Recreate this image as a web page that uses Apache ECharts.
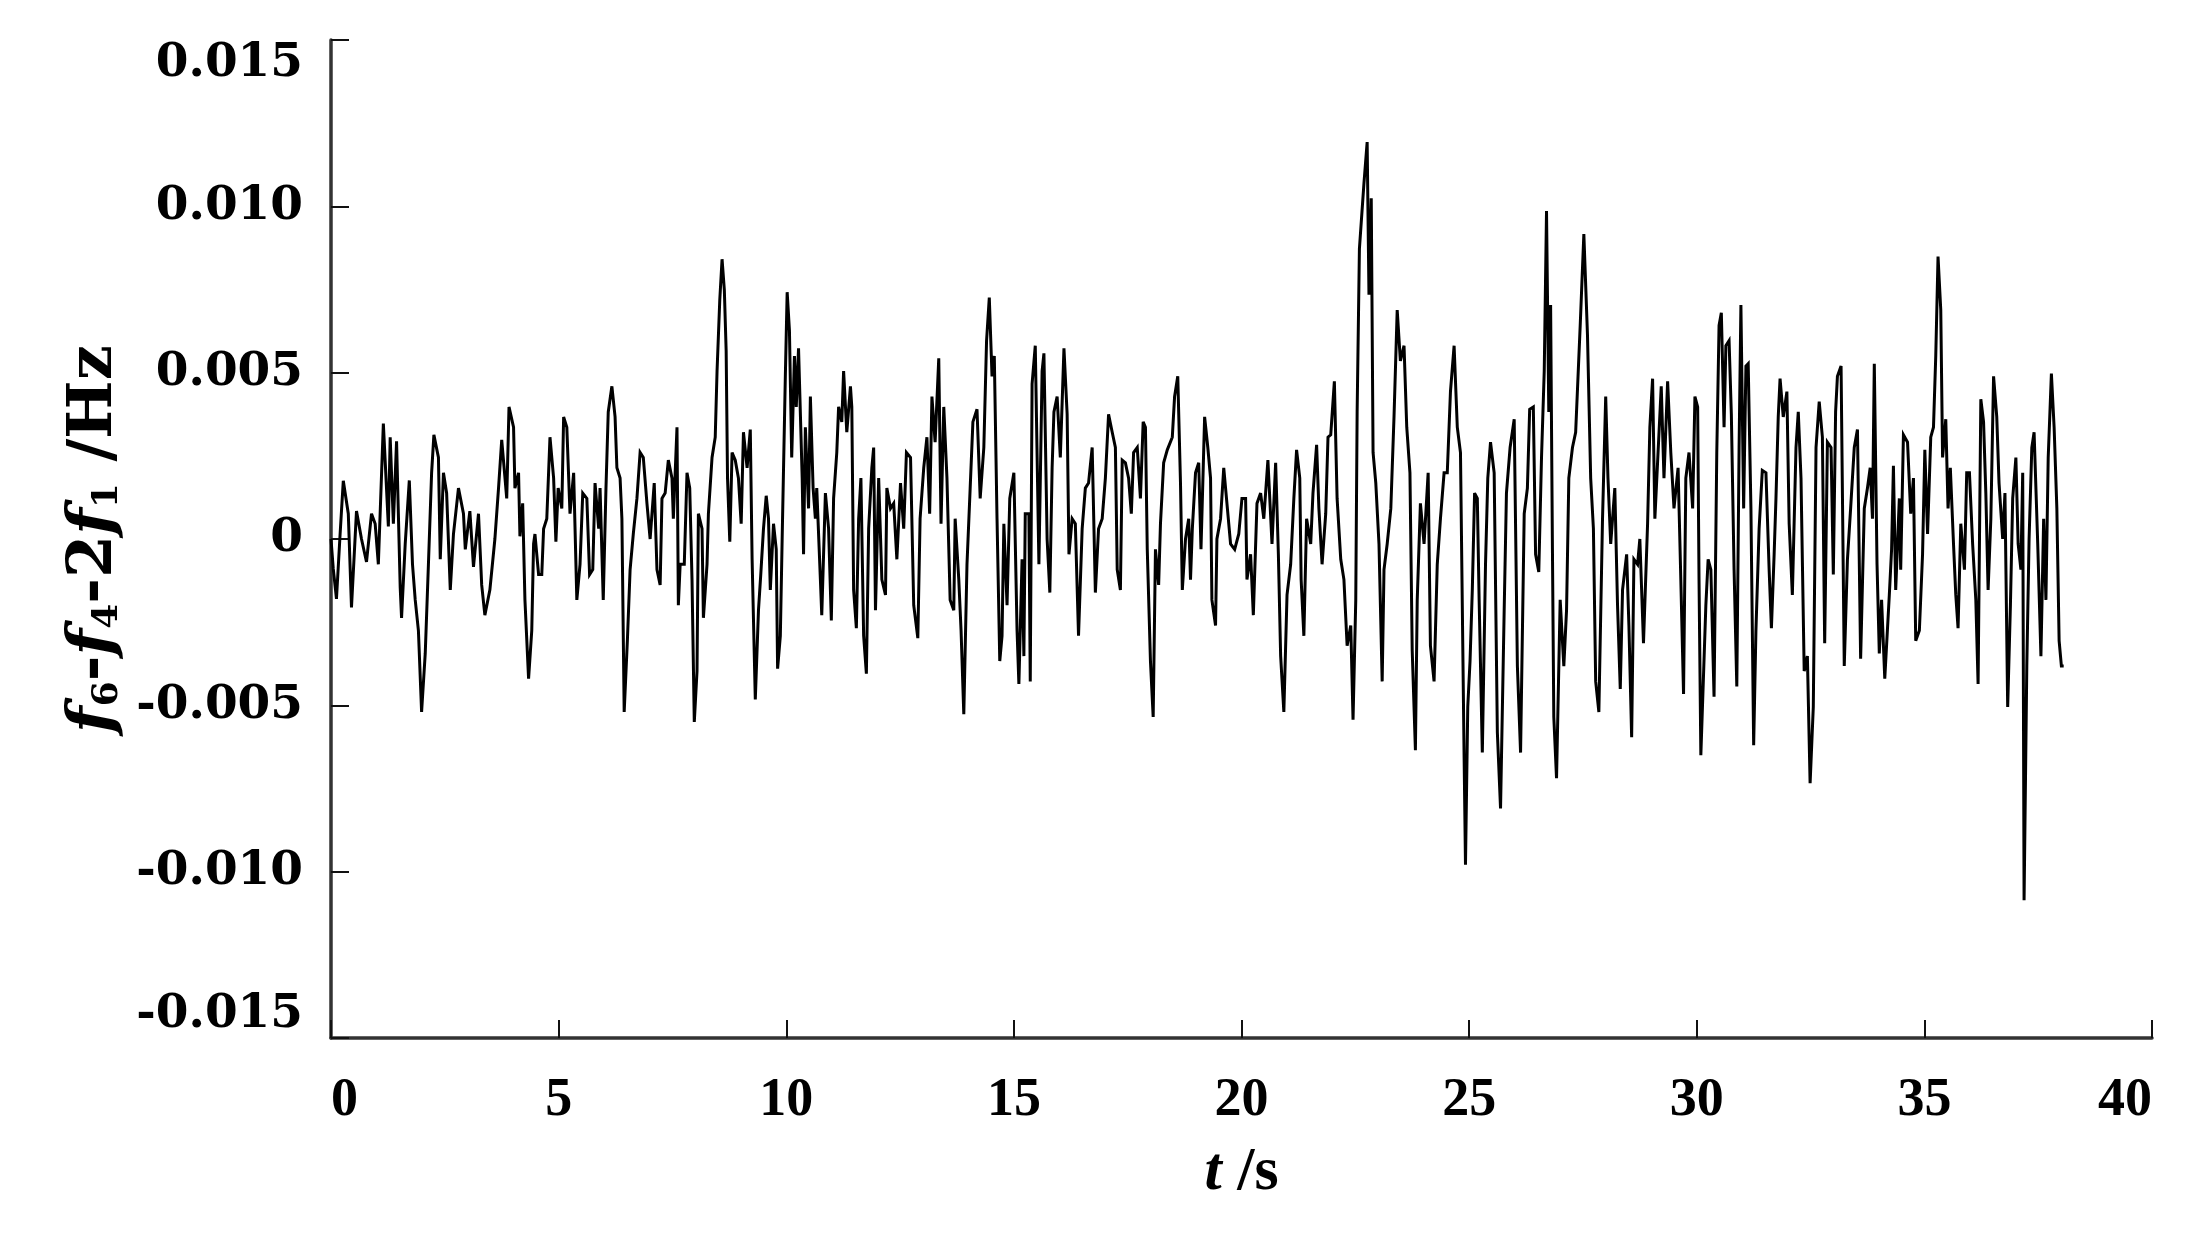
<!DOCTYPE html>
<html>
<head>
<meta charset="utf-8">
<script src="https://cdn.jsdelivr.net/npm/echarts@6/dist/echarts.min.js"></script>
<style>
  html, body { margin: 0; padding: 0; background: #ffffff; }
  #chart { width: 2200px; height: 1248px; }
</style>
</head>
<body>
<div id="chart"></div>
<script>
// x ticks (s) and y ticks (Hz) with their labels
const xTicks = [0, 5, 10, 15, 20, 25, 30, 35, 40];
const xTickLabels = ['0', '5', '10', '15', '20', '25', '30', '35', '40'];
const yTicks = [-0.015, -0.010, -0.005, 0, 0.005, 0.010, 0.015];
const yTickLabels = ['-0.015', '-0.010', '-0.005', '0', '0.005', '0.010', '0.015'];

// f6 - f4 - 2f1 (Hz) versus t (s), in segments
const seg0to4 = [[0,0],[0.05,-0.0009],[0.12,-0.0018],[0.20,0.00015],[0.27,0.00175],[0.38,0.00076],[0.45,-0.00206],[0.56,0.00084],[0.67,0],[0.78,-0.00069],[0.89,0.00076],[0.97,0.00046],[1.04,-0.00076],[1.15,0.00347],[1.26,0.00038],[1.30,0.00306],[1.37,0.00046],[1.44,0.00294],[1.52,-0.00145],[1.55,-0.00237],[1.63,-0.00015],[1.72,0.00176],[1.79,-0.00076],[1.85,-0.00183],[1.92,-0.00275],[1.99,-0.0052],[2.07,-0.00344],[2.14,-0.00076],[2.21,0.00199],[2.26,0.00313],[2.36,0.00245],[2.40,-0.00061],[2.47,0.00199],[2.54,0.00138],[2.62,-0.00153],[2.69,0.00015],[2.80,0.00153],[2.91,0.00076],[2.95,-0.00031],[3.05,0.00084],[3.13,-0.00084],[3.24,0.00076],[3.31,-0.00138],[3.38,-0.00229],[3.49,-0.00153],[3.60,0],[3.68,0.00153],[3.75,0.00298],[3.86,0.00122],[3.91,0.00397]];
const seg4to8 = [[4.01,0.00336],[4.04,0.00153],[4.12,0.00199],[4.15,0.00008],[4.21,0.00107],[4.26,-0.00183],[4.34,-0.0042],[4.41,-0.00275],[4.45,-0.00015],[4.48,0.00015],[4.56,-0.00107],[4.63,-0.00107],[4.67,0.00031],[4.74,0.00061],[4.81,0.00306],[4.89,0.00183],[4.94,-0.00008],[4.99,0.00153],[5.07,0.00092],[5.11,0.00367],[5.18,0.00336],[5.25,0.00076],[5.33,0.00199],[5.40,-0.00183],[5.47,-0.00076],[5.53,0.00138],[5.62,0.00122],[5.68,-0.00107],[5.75,-0.00092],[5.80,0.00168],[5.88,0.00031],[5.91,0.00153],[5.98,-0.00183],[6.04,0.00153],[6.09,0.00382],[6.17,0.00459],[6.24,0.00367],[6.28,0.00214],[6.35,0.00183],[6.39,0.00061],[6.44,-0.0052],[6.51,-0.00306],[6.57,-0.00092],[6.64,0.00015],[6.72,0.00122],[6.79,0.0026],[6.86,0.00245],[6.94,0.00107],[7.01,0],[7.10,0.00168],[7.16,-0.00092],[7.23,-0.00138],[7.27,0.00122],[7.34,0.00138],[7.41,0.00237],[7.49,0.00183],[7.52,0.00061],[7.60,0.00336],[7.63,-0.00199],[7.67,-0.00076]];
const seg8to11 = [[7.76,-0.00076],[7.82,0.00199],[7.88,0.00153],[7.93,-0.00122],[7.98,-0.0055],[8.04,-0.00397],[8.07,0.00076],[8.15,0.00031],[8.18,-0.00237],[8.26,-0.00076],[8.29,0.00076],[8.37,0.00245],[8.44,0.00306],[8.48,0.00505],[8.54,0.00719],[8.59,0.00841],[8.64,0.00749],[8.68,0.00566],[8.71,0.00183],[8.76,-0.00008],[8.81,0.0026],[8.88,0.00237],[8.95,0.00183],[9.01,0.00046],[9.06,0.00321],[9.14,0.00214],[9.21,0.00329],[9.25,-0.00061],[9.32,-0.00482],[9.39,-0.00214],[9.44,-0.00107],[9.50,0.00031],[9.56,0.0013],[9.61,0.00061],[9.65,-0.00153],[9.72,0.00046],[9.78,-0.00031],[9.81,-0.0039],[9.87,-0.00291],[9.91,0],[9.98,0.00489],[10.02,0.00742],[10.07,0.00627],[10.12,0.00245],[10.18,0.0055],[10.22,0.00397],[10.27,0.00573],[10.35,0.00183],[10.38,-0.00046],[10.42,0.00336],[10.49,0.00092],[10.53,0.00428],[10.59,0.00153],[10.64,0.00061],[10.67,0.00153],[10.75,-0.00122],[10.78,-0.00229],[10.86,0.00138],[10.93,0.00031],[10.99,-0.00245],[11.04,0.00122],[11.11,0.0026],[11.15,0.00397],[11.22,0.00352],[11.26,0.00505],[11.33,0.00321],[11.41,0.00459]];
const seg11to15 = [[11.44,0.00397],[11.48,-0.00153],[11.54,-0.00268],[11.59,0.00061],[11.64,0.00183],[11.70,-0.00291],[11.76,-0.00405],[11.81,0.00031],[11.88,0.00214],[11.92,0.00275],[11.96,-0.00214],[12.03,0.00183],[12.10,-0.00122],[12.18,-0.00168],[12.21,0.00153],[12.29,0.00092],[12.36,0.00107],[12.43,-0.00061],[12.51,0.00168],[12.58,0.00031],[12.64,0.0026],[12.73,0.00245],[12.80,-0.00199],[12.89,-0.00298],[12.94,0.00061],[13.02,0.00214],[13.09,0.00306],[13.15,0.00076],[13.20,0.00428],[13.27,0.00291],[13.35,0.00543],[13.40,0.00046],[13.46,0.00397],[13.53,0.00183],[13.60,-0.00183],[13.68,-0.00214],[13.71,0.00061],[13.79,-0.00122],[13.84,-0.00275],[13.90,-0.00527],[13.97,-0.00076],[14.04,0.00153],[14.10,0.00352],[14.19,0.0039],[14.26,0.00122],[14.34,0.00275],[14.40,0.00596],[14.46,0.00726],[14.52,0.00489],[14.57,0.0055],[14.63,0.00061],[14.69,-0.00367],[14.74,-0.00291],[14.78,0.00046],[14.85,-0.00199],[14.91,0.00122],[15.00,0.00199],[15.07,-0.00275],[15.11,-0.00436]];
const seg15to19 = [[15.18,-0.00061],[15.22,-0.00352],[15.25,0.00076],[15.33,0.00076],[15.36,-0.00428],[15.40,0.00466],[15.47,0.00581],[15.55,-0.00076],[15.62,0.00505],[15.66,0.00558],[15.73,0],[15.79,-0.00161],[15.84,0.00214],[15.88,0.00382],[15.95,0.00428],[16.02,0.00245],[16.10,0.00573],[16.17,0.00375],[16.21,-0.00046],[16.28,0.00061],[16.35,0.00046],[16.42,-0.00291],[16.50,0.00031],[16.57,0.00153],[16.64,0.00168],[16.72,0.00275],[16.79,-0.00161],[16.86,0.00031],[16.94,0.00061],[17.01,0.00183],[17.08,0.00375],[17.16,0.00321],[17.23,0.00275],[17.27,-0.00092],[17.34,-0.00153],[17.38,0.00237],[17.45,0.00229],[17.52,0.00183],[17.58,0.00076],[17.63,0.0026],[17.71,0.00275],[17.78,0.00122],[17.84,0.00352],[17.89,0.00336],[17.93,-0.00031],[18.00,-0.00367],[18.06,-0.00535],[18.11,-0.00031],[18.18,-0.00138],[18.22,0.00046],[18.29,0.00229],[18.37,0.00268],[18.48,0.00306],[18.53,0.00428],[18.60,0.00489],[18.66,0.00168],[18.70,-0.00153],[18.77,0],[18.84,0.00061],[18.88,-0.00122]];
const seg19to23 = [[18.92,0.00031],[18.99,0.00199],[19.06,0.00229],[19.11,-0.00031],[19.19,0.00367],[19.26,0.00275],[19.32,0.00183],[19.35,-0.00183],[19.43,-0.0026],[19.46,0],[19.54,0.00061],[19.61,0.00214],[19.68,0.00107],[19.76,-0.00015],[19.85,-0.00031],[19.94,0.00015],[20.01,0.00122],[20.09,0.00122],[20.12,-0.00122],[20.20,-0.00046],[20.26,-0.00229],[20.34,0.00107],[20.42,0.00138],[20.49,0.00061],[20.58,0.00237],[20.67,-0.00015],[20.75,0.00229],[20.81,-0.00046],[20.86,-0.00352],[20.93,-0.0052],[21.00,-0.00168],[21.08,-0.00076],[21.15,0.00122],[21.21,0.00268],[21.28,0.00183],[21.31,-0.00122],[21.37,-0.00291],[21.43,0.00061],[21.52,-0.00015],[21.57,0.00138],[21.65,0.00283],[21.70,0.00092],[21.77,-0.00076],[21.85,0.00076],[21.90,0.00306],[21.96,0.00313],[22.04,0.00474],[22.10,0.00122],[22.18,-0.00061],[22.25,-0.00122],[22.32,-0.00321],[22.40,-0.0026],[22.45,-0.00543],[22.51,-0.00183],[22.54,0.00382],[22.59,0.00872]];
const seg23to26 = [[22.69,0.0107],[22.76,0.01193],[22.80,0.00734],[22.85,0.01024],[22.89,0.0026],[22.95,0.00168],[23.02,-0.00015],[23.09,-0.00428],[23.13,-0.00092],[23.20,-0.00015],[23.28,0.00092],[23.35,0.00367],[23.42,0.00688],[23.49,0.00535],[23.57,0.00581],[23.63,0.00336],[23.70,0.00199],[23.75,-0.00336],[23.82,-0.00635],[23.86,-0.00183],[23.93,0.00107],[24.01,-0.00015],[24.10,0.00199],[24.15,-0.00321],[24.23,-0.00428],[24.30,-0.00076],[24.37,0.00061],[24.45,0.00199],[24.52,0.00199],[24.59,0.00443],[24.67,0.00581],[24.74,0.00336],[24.81,0.0026],[24.89,-0.00657],[24.92,-0.00979],[24.97,-0.00505],[25.02,-0.00367],[25.07,-0.00153],[25.12,0.00138],[25.18,0.00122],[25.22,-0.00183],[25.29,-0.00642],[25.36,-0.00076],[25.41,0.00183],[25.47,0.00291],[25.55,0.00199],[25.62,-0.00581],[25.69,-0.0081],[25.77,-0.00214],[25.82,0.00138],[25.90,0.00275],[25.99,0.0036],[26.06,-0.00382],[26.13,-0.00642],[26.21,0.00076],[26.28,0.00153],[26.33,0.0039]];
const seg26to30 = [[26.41,0.00397],[26.46,-0.00046],[26.53,-0.00099],[26.59,0.00245],[26.65,0.00505],[26.70,0.00986],[26.75,0.00382],[26.79,0.00703],[26.83,-0.00031],[26.86,-0.00535],[26.92,-0.00719],[27.00,-0.00183],[27.08,-0.00382],[27.14,-0.00214],[27.19,0.00183],[27.27,0.00275],[27.34,0.00321],[27.44,0.00642],[27.52,0.00917],[27.60,0.00612],[27.67,0.00183],[27.73,0.00031],[27.78,-0.00428],[27.85,-0.0052],[27.93,0.00061],[28.00,0.00428],[28.05,0.00183],[28.11,-0.00015],[28.20,0.00153],[28.26,-0.00199],[28.32,-0.00451],[28.37,-0.00153],[28.46,-0.00046],[28.51,-0.0026],[28.57,-0.00596],[28.62,-0.00061],[28.70,-0.00076],[28.75,0],[28.83,-0.00313],[28.92,0.00046],[28.97,0.00336],[29.03,0.00482],[29.08,0.00061],[29.15,0.0026],[29.22,0.00459],[29.28,0.00183],[29.36,0.00474],[29.43,0.0026],[29.50,0.00092],[29.59,0.00214],[29.65,-0.00122],[29.71,-0.00466],[29.76,0.00183],[29.83,0.0026],[29.91,0.00092],[29.96,0.00428],[30.02,0.00397],[30.05,-0.00122],[30.09,-0.0065]];
const seg30to34 = [[30.20,-0.00199],[30.25,-0.00061],[30.31,-0.00092],[30.38,-0.00474],[30.44,0.0026],[30.49,0.00642],[30.54,0.0068],[30.60,0.00336],[30.64,0.00581],[30.71,0.00596],[30.76,0.00375],[30.82,-0.00092],[30.88,-0.00443],[30.93,0.00275],[30.97,0.00703],[31.03,0.00092],[31.08,0.0052],[31.13,0.00527],[31.19,0.00092],[31.25,-0.0062],[31.30,-0.00275],[31.37,0.00031],[31.44,0.00206],[31.52,0.00199],[31.59,-0.00092],[31.64,-0.00268],[31.70,-0.00046],[31.74,0.00122],[31.79,0.00367],[31.83,0.00482],[31.90,0.00367],[31.98,0.00443],[32.03,0.00046],[32.10,-0.00168],[32.18,0.00275],[32.23,0.00382],[32.29,0.00183],[32.36,-0.00397],[32.43,-0.00352],[32.49,-0.00734],[32.56,-0.00505],[32.62,0.00275],[32.69,0.00413],[32.76,0.00306],[32.81,-0.00313],[32.87,0.00291],[32.95,0.00275],[33.00,-0.00107],[33.05,0.00382],[33.09,0.00489],[33.17,0.0052],[33.24,-0.00382],[33.31,-0.00061],[33.38,0.00092],[33.46,0.00275],[33.53,0.00329],[33.60,-0.0036],[33.68,0.00092],[33.75,0.00153],[33.81,0.00214]];
const seg34to38 = [[33.86,0.00061],[33.90,0.00527],[33.96,-0.00076],[34.01,-0.00344],[34.06,-0.00183],[34.13,-0.0042],[34.23,-0.00168],[34.28,-0.00031],[34.32,0.0022],[34.37,-0.00153],[34.45,0.00122],[34.48,-0.00092],[34.54,0.00313],[34.63,0.00291],[34.70,0.00076],[34.76,0.00183],[34.81,-0.00306],[34.89,-0.00275],[34.96,-0.00046],[35.01,0.00268],[35.07,0.00015],[35.14,0.00306],[35.20,0.00336],[35.25,0.0055],[35.30,0.00849],[35.36,0.00688],[35.40,0.00245],[35.47,0.0036],[35.52,0.00092],[35.57,0.00214],[35.64,-0.00015],[35.69,-0.00168],[35.74,-0.00268],[35.80,0.00046],[35.88,-0.00092],[35.93,0.00199],[35.99,0.00199],[36.06,-0.00015],[36.13,-0.00183],[36.18,-0.00436],[36.24,0.0042],[36.30,0.00352],[36.35,0.00138],[36.40,-0.00153],[36.46,0.00061],[36.52,0.00489],[36.59,0.00367],[36.64,0.00168],[36.72,0],[36.77,0.00138],[36.83,-0.00505],[36.89,-0.00199],[36.94,0.00122],[37.01,0.00245],[37.06,-0.00015],[37.12,-0.00092],[37.16,0.00199],[37.19,-0.01086],[37.25,-0.00382],[37.30,0],[37.36,0.00275],[37.41,0.00321],[37.49,-0.00015],[37.56,-0.00352],[37.62,0.00061],[37.67,-0.00183],[37.72,0.00245],[37.79,0.00497],[37.85,0.00336],[37.91,0.00092],[37.96,-0.00306],[38.01,-0.00382],[38.06,-0.00382]];

const seriesData = [].concat(seg0to4, seg4to8, seg8to11, seg11to15, seg15to19,
  seg19to23, seg23to26, seg26to30, seg30to34, seg34to38);

function labelFor(ticks, labels, v) {
  let best = 0;
  for (let i = 1; i < ticks.length; i++) {
    if (Math.abs(ticks[i] - v) < Math.abs(ticks[best] - v)) best = i;
  }
  return labels[best];
}

const chart = echarts.init(document.getElementById('chart'), null, { renderer: 'canvas' });
chart.setOption({
  animation: false,
  backgroundColor: '#ffffff',
  grid: { left: 331, right: 48, top: 40, bottom: 210, containLabel: false, outerBoundsMode: 'none' },
  xAxis: {
    type: 'value',
    min: 0, max: 40, interval: 5,
    name: '{i|t}{n| /s}',
    nameLocation: 'middle',
    nameGap: 104,
    nameTextStyle: {
      color: '#000',
      rich: {
        i: { fontFamily: 'Liberation Serif', fontWeight: 'bold', fontStyle: 'italic', fontSize: 62, color: '#000' },
        n: { fontFamily: 'Liberation Serif', fontWeight: 'bold', fontSize: 62, color: '#000' }
      }
    },
    axisLine: { show: true, onZero: false, lineStyle: { color: '#333', width: 3.5 } },
    axisTick: { show: true, inside: true, length: 18, lineStyle: { color: '#111', width: 2 } },
    splitLine: { show: false },
    axisLabel: {
      margin: 36,
      color: '#000',
      fontFamily: 'Liberation Serif',
      fontWeight: 'bold',
      fontSize: 54,
      alignMinLabel: 'left',
      alignMaxLabel: 'right',
      formatter: v => labelFor(xTicks, xTickLabels, v)
    }
  },
  yAxis: {
    type: 'value',
    min: -0.015, max: 0.015, interval: 0.005,
    name: '{i|f}{s|6}{n|-}{i|f}{s|4}{n|-2}{i|f}{s|1}{n| /Hz}',
    nameLocation: 'middle',
    nameRotate: 90,
    nameGap: 190,
    nameTextStyle: {
      color: '#000',
      rich: {
        i: { fontFamily: 'DejaVu Serif', fontWeight: 'bold', fontStyle: 'italic', fontSize: 62, color: '#000', verticalAlign: 'middle' },
        n: { fontFamily: 'DejaVu Serif', fontWeight: 'bold', fontSize: 62, color: '#000', verticalAlign: 'middle' },
        s: { fontFamily: 'DejaVu Serif', fontWeight: 'bold', fontSize: 36, color: '#000', verticalAlign: 'bottom' }
      }
    },
    axisLine: { show: true, onZero: false, lineStyle: { color: '#333', width: 3.5 } },
    axisTick: { show: true, inside: true, length: 18, lineStyle: { color: '#111', width: 2 } },
    splitLine: { show: false },
    axisLabel: {
      margin: 28,
      color: '#000',
      fontFamily: 'DejaVu Serif',
      fontWeight: 'bold',
      fontSize: 47,
      verticalAlignMinLabel: 'bottom',
      verticalAlignMaxLabel: 'top',
      formatter: v => labelFor(yTicks, yTickLabels, v)
    }
  },
  series: [{
    type: 'line',
    data: seriesData,
    showSymbol: false,
    symbol: 'none',
    lineStyle: { color: '#000', width: 3, join: 'miter', miterLimit: 4 },
    emphasis: { disabled: true },
    z: 3
  }]
});
</script>
</body>
</html>
